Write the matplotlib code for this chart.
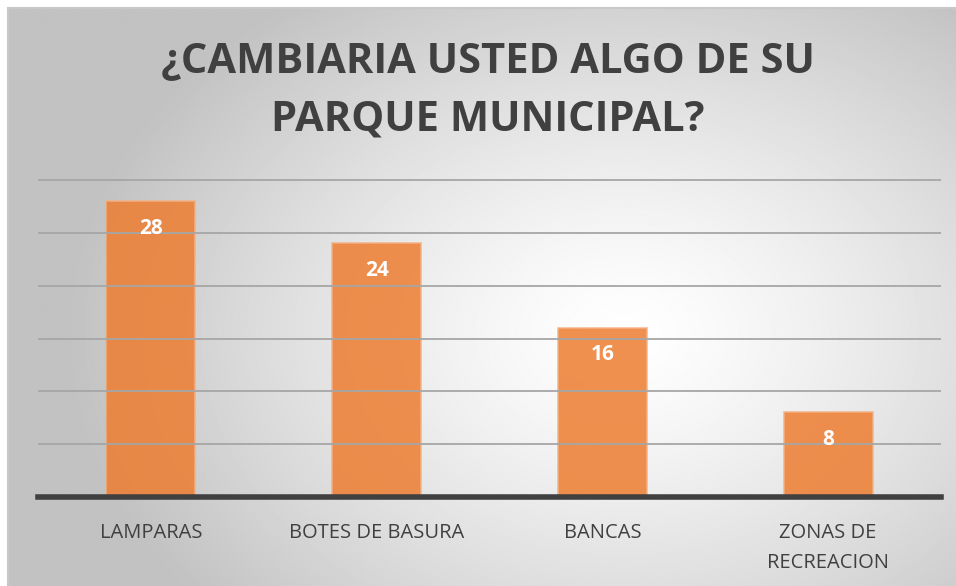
import matplotlib
matplotlib.use("Agg")
import matplotlib.pyplot as plt
import numpy as np
from matplotlib.patches import Rectangle

categories = ["LAMPARAS", "BOTES DE BASURA", "BANCAS", "ZONAS DE\nRECREACION"]
values = [28, 24, 16, 8]
title = "¿CAMBIARIA USTED ALGO DE SU\nPARQUE MUNICIPAL?"

W, H = 956, 586
fig = plt.figure(figsize=(W / 100, H / 100), dpi=100)
fig.patch.set_facecolor("white")

# background: radial gradient, light in the middle, grey at the edges
bg = fig.add_axes([8 / W, 0, 1 - 8 / W, 1 - 8 / H])
bg.set_axis_off()
yy, xx = np.mgrid[0:H, 0:W]
cx, cy = 620, 330
r = np.sqrt(((xx - cx) / 560.0) ** 2 + ((yy - cy) / 420.0) ** 2)
shade = np.clip(1.0 - 0.24 * r ** 1.3, 0.76, 1.0)
bg.imshow(shade, cmap="gray", vmin=0, vmax=1, aspect="auto",
          extent=[0, 1, 0, 1], origin="upper")
bg.set_xlim(0, 1)
bg.set_ylim(0, 1)
fig.add_artist(Rectangle((7.5 / W, -0.01), 1.2, 1 - 7.5 / H + 0.01,
                         transform=fig.transFigure, fill=False,
                         edgecolor="#c8c8c8", linewidth=1.5, zorder=5))

ax = fig.add_axes([38 / W, 1 - 497 / H, (941 - 38) / W, (497 - 178) / H])
ax.patch.set_alpha(0)
x = np.arange(len(categories))
bars = ax.bar(x, values, width=0.395, color="#ed7d31", alpha=0.85,
              edgecolor="#f4b183", linewidth=1.2, zorder=2)
ax.set_xlim(-0.5, len(categories) - 0.5)
ax.set_ylim(0, 30.2)
ax.set_yticks([5, 10, 15, 20, 25, 30])
ax.yaxis.grid(True, color="#a6a6a6", linewidth=1.3, zorder=3)
ax.set_axisbelow(False)
ax.tick_params(axis="y", left=False, labelleft=False)
ax.tick_params(axis="x", bottom=False, pad=15)
ax.set_xticks(x)
ax.set_xticklabels(categories, fontsize=14.5, color="#404040",
                   family="Open Sans", linespacing=1.7)
for s in ["left", "right", "top"]:
    ax.spines[s].set_visible(False)
ax.spines["bottom"].set_color("#404040")
ax.spines["bottom"].set_linewidth(4)
ax.spines["bottom"].set_zorder(4)

for b, v in zip(bars, values):
    ax.text(b.get_x() + b.get_width() / 2, v - 2.55, str(v), ha="center",
            va="center", color="white", fontsize=15, fontweight="bold",
            family="Open Sans", zorder=6)

fig.text(488 / W, 1 - 91 / H, title, ha="center", va="center",
         fontsize=30, fontweight="bold", color="#404040",
         family="Open Sans", linespacing=1.55)

fig.savefig("out.png", dpi=100)
